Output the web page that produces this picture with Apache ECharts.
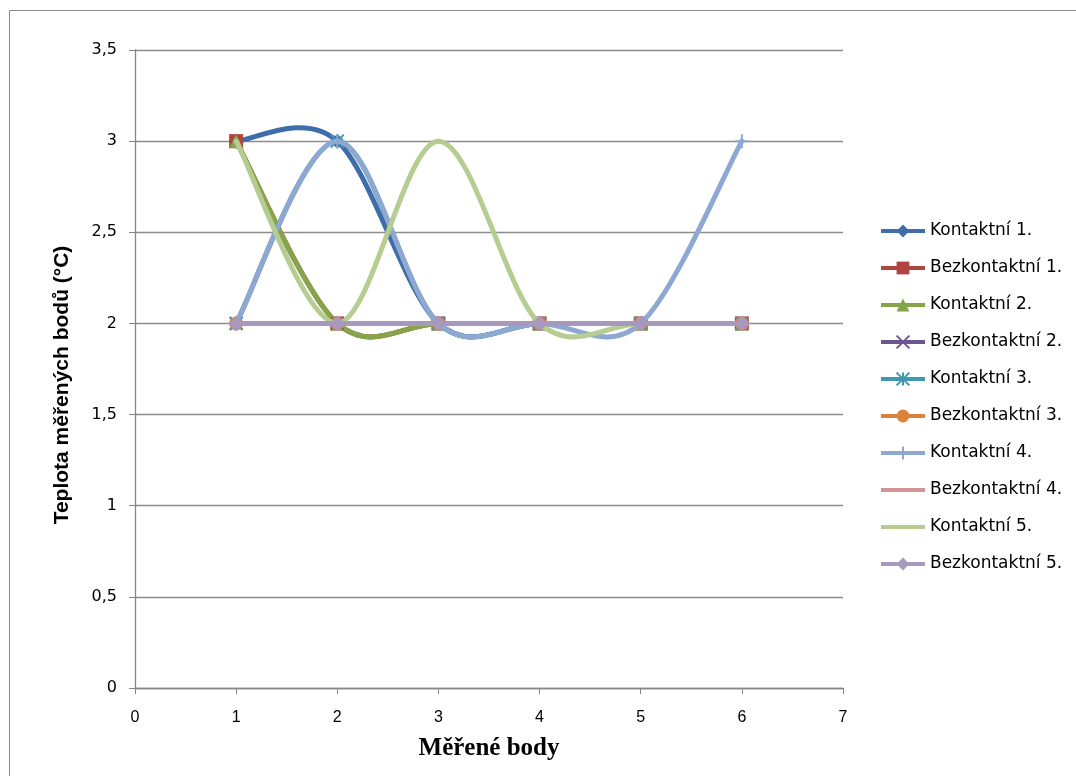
<!DOCTYPE html>
<html>
<head>
<meta charset="utf-8">
<script src="https://cdn.jsdelivr.net/npm/echarts@6/dist/echarts.min.js"></script>
<style>html,body{margin:0;padding:0;background:#fff;}#c{width:1076px;height:776px;}</style>
</head>
<body>
<div id="c"></div>
<script>
const xValues = [1, 2, 3, 4, 5, 6];
const seriesNames = ['Kontaktní 1.', 'Bezkontaktní 1.', 'Kontaktní 2.', 'Bezkontaktní 2.', 'Kontaktní 3.', 'Bezkontaktní 3.', 'Kontaktní 4.', 'Bezkontaktní 4.', 'Kontaktní 5.', 'Bezkontaktní 5.'];
const kontaktni1 = [3, 3, 2, 2, 2, 2];
const bezkontaktni1 = [3, 2, 2, 2, 2, 2];
const kontaktni2 = [3, 2, 2, 2, 2, 2];
const bezkontaktni2 = [2, 2, 2, 2, 2, 2];
const kontaktni3 = [2, 3, 2, 2, 2, 2];
const bezkontaktni3 = [2, 2, 2, 2, 2, 2];
const kontaktni4 = [2, 3, 2, 2, 2, 3];
const bezkontaktni4 = [2, 2, 2, 2, 2, 2];
const kontaktni5 = [3, 2, 3, 2, 2, 2];
const bezkontaktni5 = [2, 2, 2, 2, 2, 2];
const allValues = [kontaktni1, bezkontaktni1, kontaktni2, bezkontaktni2, kontaktni3, bezkontaktni3, kontaktni4, bezkontaktni4, kontaktni5, bezkontaktni5];
const xTitle = 'Měřené body';
const yTitle = 'Teplota měřených bodů (°C)';

const colors = ['#3E6DAA', '#B0443F', '#86A44A', '#6F5590', '#3F98B0', '#DD823A', '#8FA8D2', '#D39391', '#B6CD92', '#A798BE'];
const symbols = [
  'diamond', 'rect', 'triangle',
  'path://M0,0 L10,10 M10,0 L0,10',
  'path://M0,0 L10,10 M10,0 L0,10 M5,0 L5,10 M0,5 L10,5',
  'circle',
  'path://M5,0 L5,10 M0,5 L10,5',
  'none', 'none', 'diamond'
];
const strokeSym = [false, false, false, true, true, false, true, false, false, false];
const symSizes = [15, 14, 14, 12, 13, 14, 14, 0, 0, 16];
const LINE_W = 5;

// Excel-style smoothed curve (Catmull-Rom -> cubic Bezier), drawn through the axis scales
function makeCurveRenderer(vals, color) {
  return function (params, api) {
    if (params.dataIndex !== 0) return null;
    const pts = xValues.map((x, j) => api.coord([x, vals[j]]));
    const n = pts.length;
    const children = [];
    for (let i = 0; i < n - 1; i++) {
      const p0 = pts[i - 1] || pts[i];
      const p1 = pts[i];
      const p2 = pts[i + 1];
      const p3 = pts[i + 2] || pts[i + 1];
      children.push({
        type: 'bezierCurve',
        shape: {
          x1: p1[0], y1: p1[1], x2: p2[0], y2: p2[1],
          cpx1: p1[0] + (p2[0] - p0[0]) / 6, cpy1: p1[1] + (p2[1] - p0[1]) / 6,
          cpx2: p2[0] - (p3[0] - p1[0]) / 6, cpy2: p2[1] - (p3[1] - p1[1]) / 6
        },
        style: {stroke: color, lineWidth: LINE_W, fill: null, lineCap: 'round', lineJoin: 'round'}
      });
    }
    return {type: 'group', children: children};
  };
}

const series = [];
seriesNames.forEach((name, i) => {
  const data = xValues.map((x, j) => [x, allValues[i][j]]);
  series.push({
    name: '_curve' + i,
    type: 'custom',
    data: data,
    encode: {x: 0, y: 1},
    renderItem: makeCurveRenderer(allValues[i], colors[i]),
    silent: true,
    z: 2 + 2 * i
  });
  series.push({
    name: name,
    type: 'line',
    data: data,
    symbol: symbols[i],
    symbolSize: symSizes[i],
    showSymbol: symbols[i] !== 'none',
    lineStyle: {color: colors[i], width: LINE_W, opacity: 0},
    itemStyle: strokeSym[i]
      ? {color: colors[i], borderColor: colors[i], borderWidth: 2}
      : {color: colors[i], borderWidth: 0},
    emphasis: {disabled: true},
    silent: true,
    z: 3 + 2 * i
  });
});

const legendData = seriesNames.map((name, i) => {
  const item = {name: name, lineStyle: {color: colors[i], width: 4, opacity: 1}};
  if (symbols[i] === 'none') item.itemStyle = {opacity: 0};
  return item;
});

const chart = echarts.init(document.getElementById('c'), null, {renderer: 'canvas'});
chart.setOption({
  animation: false,
  backgroundColor: '#fff',
  graphic: [
    {
      type: 'rect',
      shape: {x: 9.5, y: 10.5, width: 1100, height: 800},
      style: {fill: 'none', stroke: '#8c8c8c', lineWidth: 1},
      silent: true, z: -1
    },
    {
      type: 'text',
      x: 62, y: 385, rotation: Math.PI / 2,
      style: {text: yTitle, fontFamily: 'Liberation Sans', fontWeight: 'bold', fontSize: 21, fill: '#000', align: 'center', verticalAlign: 'middle'},
      silent: true
    }
  ],
  grid: {left: 135, right: 233, top: 50, bottom: 88, containLabel: false},
  xAxis: {
    type: 'value', min: 0, max: 7, interval: 1,
    name: xTitle, nameLocation: 'middle', nameGap: 48,
    nameTextStyle: {fontFamily: 'Liberation Serif', fontWeight: 'bold', fontSize: 25, color: '#000'},
    axisLine: {show: true, lineStyle: {color: '#868686', width: 1.3}},
    axisTick: {show: true, length: 6, lineStyle: {color: '#868686'}},
    axisLabel: {fontFamily: 'Liberation Sans', fontSize: 16, color: '#000', margin: 22},
    splitLine: {show: false}
  },
  yAxis: {
    type: 'value', min: 0, max: 3.5, interval: 0.5,
    axisLine: {show: true, lineStyle: {color: '#868686', width: 1.3}},
    axisTick: {show: true, length: 6, lineStyle: {color: '#868686'}},
    axisLabel: {fontFamily: 'DejaVu Sans', fontSize: 16, color: '#000', margin: 18,
      formatter: v => String(v).replace('.', ',')},
    splitLine: {show: true, lineStyle: {color: '#8c8c8c', width: 1.3}}
  },
  legend: {
    orient: 'vertical', left: 874, top: 217,
    itemWidth: 44, itemHeight: 16, itemGap: 19,
    textStyle: {fontFamily: 'DejaVu Sans', fontSize: 17, color: '#000', lineHeight: 18},
    data: legendData,
    selectedMode: false
  },
  series: series
});
</script>
</body>
</html>
